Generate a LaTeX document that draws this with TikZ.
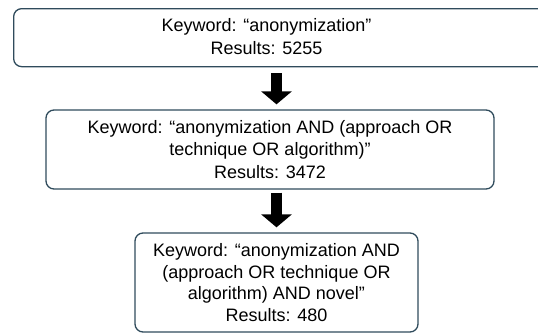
\documentclass[tikz,border=0pt]{standalone}
\usepackage{fontspec}
\setmainfont{Liberation Sans}
\usetikzlibrary{positioning, arrows.meta, calc}

\definecolor{frameblue}{HTML}{2F4B5C}

\begin{document}
\begin{tikzpicture}[
    x=1pt, y=-1pt,
    querybox/.style={rectangle, draw=frameblue, line width=1.3pt, rounded corners=8pt,
        align=center, inner sep=0pt},
    querytext/.style={align=center, inner sep=0pt},
    flow/.style={line width=11pt, -{Triangle[width=30pt, length=13pt]}},
    every node/.style={font=\fontsize{18}{22.5}\selectfont}
]
\useasboundingbox (0,0) rectangle (538,333);
\clip (0,0) rectangle (538,333);

% Nodes
\node[querybox, minimum width=560pt, minimum height=58pt, anchor=north west] (q1) at (13,8) {};
\node[querytext] (t1) at (266.5,36.5) {Keyword: “anonymization”\\Results: 5255};
\node[querybox, minimum width=448pt, minimum height=79pt] (q2) at (270,149.5)
    {Keyword: “anonymization AND (approach OR\\technique OR algorithm)”\\Results: 3472};
\node[querybox, minimum width=283pt, minimum height=99pt,
    font=\fontsize{18}{21.5}\selectfont] (q3) at (276.5,282.5)
    {Keyword: “anonymization AND\\(approach OR technique OR\\algorithm) AND novel”\\Results: 480};

% Edges
\draw[flow, shorten <=6pt, shorten >=5pt] (q1.south -| q3.north) -- (q2.north -| q3.north);
\draw[flow, shorten <=3pt, shorten >=5pt] (q2.south -| q3.north) -- (q3.north);

\end{tikzpicture}
\end{document}
